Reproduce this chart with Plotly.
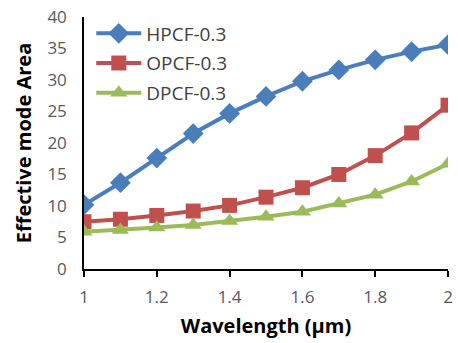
import plotly.graph_objects as go

wavelength = [1.0, 1.1, 1.2, 1.3, 1.4, 1.5, 1.6, 1.7, 1.8, 1.9, 2.0]
hpcf = [10.2, 13.7, 17.6, 21.5, 24.7, 27.4, 29.8, 31.6, 33.2, 34.5, 35.6]
opcf = [7.5, 7.9, 8.5, 9.2, 10.1, 11.4, 12.9, 15.0, 18.0, 21.6, 26.0]
dpcf = [5.9, 6.2, 6.6, 7.0, 7.6, 8.3, 9.1, 10.4, 11.8, 13.9, 16.7]
names = ["HPCF-0.3", "OPCF-0.3", "DPCF-0.3"]
colors = ["#4A7EBB", "#C0504D", "#9BBB59"]
symbols = ["diamond", "square", "triangle-up"]
x_ticks = [1, 1.2, 1.4, 1.6, 1.8, 2]
x_tick_text = ["1", "1.2", "1.4", "1.6", "1.8", "2"]
y_ticks = [0, 5, 10, 15, 20, 25, 30, 35, 40]

fig = go.Figure()
for vals, name, col, sym in zip([hpcf, opcf, dpcf], names, colors, symbols):
    fig.add_trace(go.Scatter(
        x=wavelength, y=vals, name=name, mode="lines+markers",
        legendgroup=name,
        line=dict(color=col, width=4),
        marker=dict(symbol=sym, size=16 if sym == "diamond" else 15, color=col),
    ))

font_fam = "Open Sans, Liberation Sans, sans-serif"
fig.update_layout(
    width=458, height=343,
    margin=dict(l=84, r=5, t=16, b=74),
    paper_bgcolor="white", plot_bgcolor="white",
    font=dict(family=font_fam, color="#595959", size=17),
    showlegend=True,
    legend=dict(x=0.02, y=1.01, xanchor="left", yanchor="top",
                bgcolor="rgba(0,0,0,0)", font=dict(size=19, color="#404040"),
                traceorder="grouped", tracegroupgap=2, itemwidth=45),
    xaxis=dict(
        range=[1, 2], tickvals=x_ticks, ticktext=x_tick_text,
        showline=True, linecolor="black", linewidth=1.5,
        ticks="outside", ticklen=6, tickcolor="black", tickwidth=1.5,
        showgrid=False, zeroline=False, ticklabelstandoff=6,
        title=dict(text="Wavelength (μm)", font=dict(size=20, color="black", weight="bold"), standoff=12),
        tickfont=dict(size=17, color="#595959"),
    ),
    yaxis=dict(
        range=[0, 40], tickvals=y_ticks,
        showline=True, linecolor="black", linewidth=1.5,
        ticks="", showgrid=False, zeroline=False, ticklabelstandoff=12,
        title=dict(text="Effective mode Area", font=dict(size=20, color="black", weight="bold"), standoff=10),
        tickfont=dict(size=17, color="#595959"),
    ),
)

fig.write_html("out.html")
